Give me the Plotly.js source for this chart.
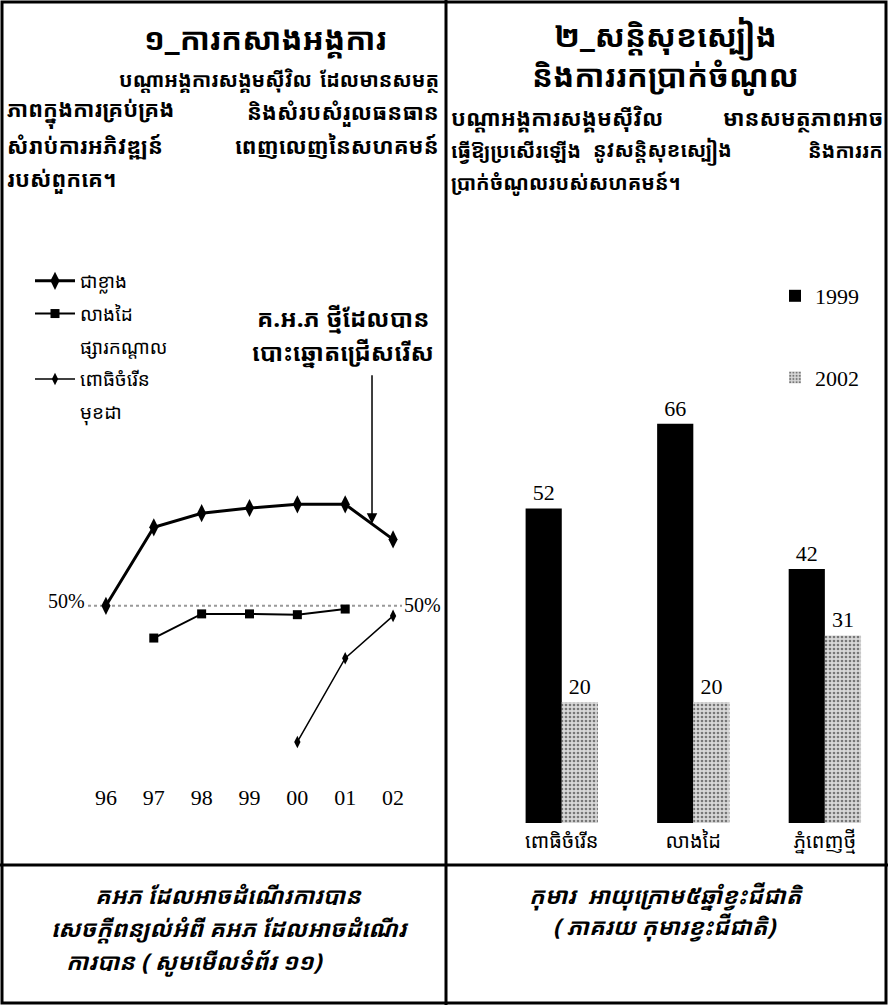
<!DOCTYPE html>
<html><head><meta charset="utf-8">
<script src="https://cdn.plot.ly/plotly-3.0.1.min.js"></script>
<style>html,body{margin:0;padding:0;background:#fff}#c{width:888px;height:1005px}</style>
</head><body><div id="c"></div>
<script>
// ---- line chart data (%) ----
const years = ['96','97','98','99','00','01','02'];
const cheaKhlang = [50, 69.5, 73, 74.3, 75.2, 75.2, 66.5];
const leangDai = [null, 42, 48, 48, 47.8, 49.2, null];
const phsarKandal = [null, null, null, null, null, null, null];
const pothiChamroeun = [null, null, null, null, 16.2, 37, 47.5];
const mukhDa = [null, null, null, null, null, null, null];
const lineNames = ['ជាខ្លាង','លាងដៃ','ផ្សារកណ្ដាល','ពោធិចំរើន','មុខដា'];
const refLevel = 50;
const refLabel = '50%';

// ---- bar chart data ----
const barCats = ['ពោធិចំរើន','លាងដៃ','ភ្នំពេញថ្មី'];
const v1999 = [52, 66, 42];
const v2002 = [20, 20, 31];
const barNames = ['1999','2002'];

const KH = '"Noto Sans Khmer","Khmer OS","Noto Serif Khmer","Noto Sans",sans-serif';
const SERIF = '"Liberation Serif","Times New Roman",serif';

const traces = [
  {x: years, y: cheaKhlang, name: lineNames[0], type:'scatter', mode:'lines+markers',
   line:{color:'#000', width:3}, marker:{symbol:'diamond-tall', size:13, color:'#000'}, xaxis:'x', yaxis:'y', legend:'legend', legendgroup:'g1'},
  {x: years, y: leangDai, name: lineNames[1], type:'scatter', mode:'lines+markers',
   line:{color:'#000', width:2}, marker:{symbol:'square', size:9, color:'#000'}, xaxis:'x', yaxis:'y', legend:'legend', legendgroup:'g2'},
  {x: years, y: phsarKandal, name: lineNames[2], type:'scatter', mode:'lines',
   line:{color:'rgba(0,0,0,0)', width:0}, xaxis:'x', yaxis:'y', legend:'legend', legendgroup:'g3'},
  {x: years, y: pothiChamroeun, name: lineNames[3], type:'scatter', mode:'lines+markers',
   line:{color:'#000', width:1.5}, marker:{symbol:'diamond-tall', size:9, color:'#000'}, xaxis:'x', yaxis:'y', legend:'legend', legendgroup:'g4'},
  {x: years, y: mukhDa, name: lineNames[4], type:'scatter', mode:'lines',
   line:{color:'rgba(0,0,0,0)', width:0}, xaxis:'x', yaxis:'y', legend:'legend', legendgroup:'g5'},
  {x: barCats, y: v1999, name: barNames[0], type:'bar', marker:{color:'#000'},
   text: v1999.map(String), textposition:'outside', cliponaxis:false,
   textfont:{family:SERIF, size:22, color:'#000'}, xaxis:'x2', yaxis:'y2', legend:'legend2', legendgroup:'a'},
  {x: barCats, y: v2002, name: barNames[1], type:'bar',
   marker:{color:'#d4d4d4', pattern:{shape:'.', fgcolor:'#777', bgcolor:'#d8d8d8', size:4, solidity:0.35}},
   text: v2002.map(String), textposition:'outside', cliponaxis:false,
   textfont:{family:SERIF, size:22, color:'#000'}, xaxis:'x2', yaxis:'y2', legend:'legend2', legendgroup:'b'}
];

function px(x){return x/888;}
function py(y){return 1 - y/1005;}

const ann = [];
function txt(x, y, s, size, opts){
  ann.push(Object.assign({xref:'paper', yref:'paper', x:px(x), y:py(y), text:s, showarrow:false,
    xanchor:'center', yanchor:'middle', font:{family:KH, size:size, color:'#000'}}, opts||{}));
}
const L = {xanchor:'left'}, R = {xanchor:'right'};
// Left panel texts
txt(265, 38, '<b>១_ការកសាងអង្គការ</b>', 31);
txt(117, 79, '<b>បណ្ដាអង្គការសង្គមស៊ីវិល</b>', 20, L);
txt(441, 79, '<b>ដែលមានសមត្ថ</b>', 20, R);
txt(5, 111, '<b>ភាពក្នុងការគ្រប់គ្រង</b>', 22, L);
txt(441, 111, '<b>និងសំរបសំរួលធនធាន</b>', 22, R);
txt(5, 145, '<b>សំរាប់ការអភិវឌ្ឍន៍</b>', 22, L);
txt(441, 145, '<b>ពេញលេញនៃសហគមន៍</b>', 22, R);
txt(5, 178, '<b>របស់ពួកគេ។</b>', 22, L);
// Right panel texts
txt(665, 38, '<b>២_សន្តិសុខស្បៀង</b>', 31);
txt(665, 75, '<b>និងការរកប្រាក់ចំណូល</b>', 31);
txt(449, 118, '<b>បណ្ដាអង្គការសង្គមស៊ីវិល</b>', 22, L);
txt(885, 118, '<b>មានសមត្ថភាពអាច</b>', 22, R);
txt(449, 151, '<b>ធ្វើឱ្យប្រសើរឡើង</b>', 20, L);
txt(662, 151, '<b>នូវសន្តិសុខស្បៀង</b>', 20);
txt(885, 151, '<b>និងការរក</b>', 20, R);
txt(449, 182, '<b>ប្រាក់ចំណូលរបស់សហគមន៍។</b>', 20, L);
// Annotation about new committee
txt(343, 318, '<b>គ.អ.ភ ថ្មីដែលបាន</b>', 24);
txt(343, 352, '<b>បោះឆ្នោតជ្រើសរើស</b>', 24);
// 50% labels
txt(66, 601, refLabel, 20, {font:{family:SERIF, size:20, color:'#000'}});
txt(422, 605, refLabel, 20, {font:{family:SERIF, size:20, color:'#000'}});
// Bottom captions
txt(228, 895, '<b><i>គអភ ដែលអាចដំណើរការបាន</i></b>', 23);
txt(230, 928, '<b><i>សេចក្ដីពន្យល់អំពី គអភ ដែលអាចដំណើរ</i></b>', 23);
txt(194, 961, '<b><i>ការបាន ( សូមមើលទំព័រ ១១)</i></b>', 23);
txt(666, 895, '<b><i>កុមារ  អាយុក្រោម៥ឆ្នាំខ្វះជីជាតិ</i></b>', 23);
txt(665, 926, '<b><i>( ភាគរយ កុមារខ្វះជីជាតិ)</i></b>', 23);
// Arrow
ann.push({xref:'x', yref:'y', x:5.56, y:70.4, text:'', showarrow:true, arrowhead:2, arrowsize:1.4,
  arrowwidth:1.5, arrowcolor:'#000', ax:0, ay:-150, axref:'pixel', ayref:'pixel'});

const shapes = [
  {type:'rect', xref:'paper', yref:'paper', x0:px(2), x1:px(886), y0:py(2), y1:py(1003), line:{color:'#000', width:3}},
  {type:'line', xref:'paper', yref:'paper', x0:px(446), x1:px(446), y0:py(0), y1:py(1005), line:{color:'#000', width:3}},
  {type:'line', xref:'paper', yref:'paper', x0:px(0), x1:px(888), y0:py(865), y1:py(865), line:{color:'#000', width:3}},
  {type:'line', xref:'paper', yref:'y', x0:px(88), x1:px(402), y0:refLevel, y1:refLevel, line:{color:'#999', width:2, dash:'dot'}, layer:'below'}
];

const layout = {
  width:888, height:1005, margin:{l:0,r:0,t:0,b:0},
  paper_bgcolor:'#fff', plot_bgcolor:'rgba(0,0,0,0)',
  showlegend:true,
  xaxis:{domain:[px(82), px(417)], range:[-0.5, 6.5], type:'category', showgrid:false, zeroline:false, showline:false,
    ticks:'', tickfont:{family:SERIF, size:22, color:'#000'}, anchor:'y'},
  yaxis:{domain:[py(782), py(480)], range:[6.25, 81.25], visible:false, anchor:'x'},
  xaxis2:{domain:[px(496), px(888)], range:[-0.5, 2.48], type:'category', showgrid:false, zeroline:false, showline:false,
    ticks:'', tickfont:{family:KH, size:20, color:'#000'}, anchor:'y2', ticklabelstandoff:4},
  yaxis2:{domain:[py(823), py(339)], range:[0, 80], visible:false, anchor:'x2'},
  bargap:0.45, bargroupgap:0, barmode:'group',
  legend:{x:px(30), y:py(262), xanchor:'left', yanchor:'top', bgcolor:'rgba(0,0,0,0)',
    font:{family:KH, size:19, color:'#000'}, itemwidth:40, tracegroupgap:5, traceorder:'grouped'},
  legend2:{x:px(775), y:py(275), xanchor:'left', yanchor:'top', bgcolor:'rgba(0,0,0,0)',
    font:{family:SERIF, size:22, color:'#000'}, tracegroupgap:50, traceorder:'grouped', itemwidth:30},
  annotations: ann, shapes: shapes
};
Plotly.newPlot('c', traces, layout, {displayModeBar:false, staticPlot:true});
</script></body></html>
